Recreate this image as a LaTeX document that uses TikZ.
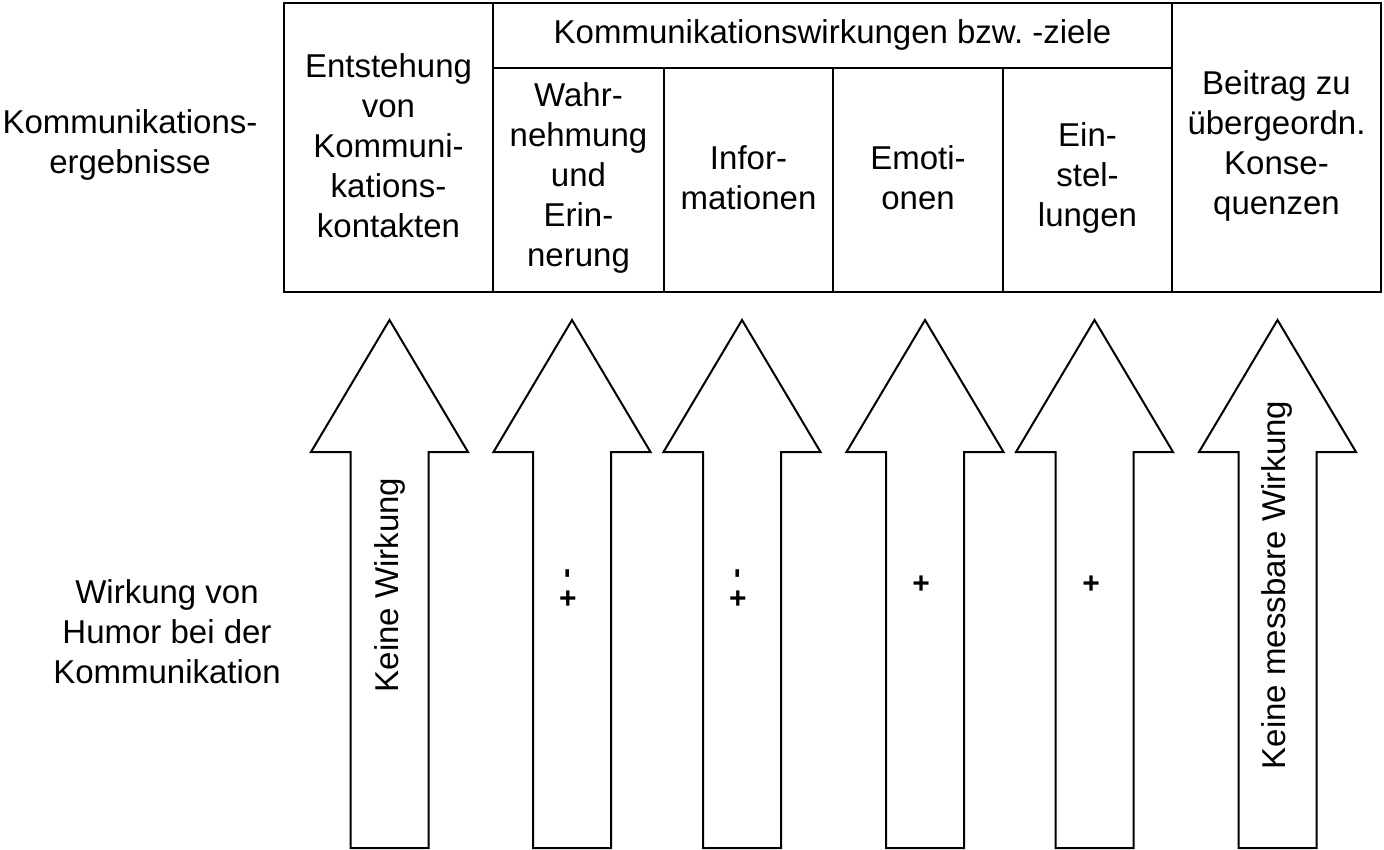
\documentclass[tikz,border=0pt]{standalone}
\usepackage{fontspec}
\setmainfont{Liberation Sans}
\frenchspacing
\begin{document}
\begin{tikzpicture}[x=1pt,y=-1pt,line width=2pt,
  txt/.style={font=\fontsize{33}{40}\selectfont, align=center, inner sep=0pt},
  sign/.style={font=\fontsize{30}{30}\selectfont\bfseries, inner sep=0pt},
  bigarrow/.pic={\draw (0,320) -- (78.5,452) -- (39,452) -- (39,848) -- (-39,848) -- (-39,452) -- (-78.5,452) -- cycle;}]
\useasboundingbox (0,0) rectangle (1384,850);
% table
\draw (284,3) rectangle (1381,292);
\draw (493,3) -- (493,292);
\draw (1172,3) -- (1172,292);
\draw (493,68) -- (1172,68);
\draw (664,68) -- (664,292);
\draw (833,68) -- (833,292);
\draw (1003,68) -- (1003,292);
% cell texts
\node[txt] (hdr) at (832.5,35) {Kommunikationswirkungen bzw.\ -ziele};
\node[txt] (c1) at (388.5,146) {Entstehung\\von\\Kommuni-\\kations-\\kontakten};
\node[txt] (c2) at (578.5,178) {Wahr-\\nehmung\\und\\Erin-\\nerung};
\node[txt] (c3) at (748.5,178) {Infor-\\mationen};
\node[txt] (c4) at (918,178) {Emoti-\\onen};
\node[txt] (c5) at (1087.5,178) {Ein-\\stel-\\lungen};
\node[txt] (c6) at (1276.5,146) {Beitrag zu\\übergeordn.\\Konse-\\quenzen};
% left labels
\node[txt] (l1) at (130,145) {Kommunikations-\\ergebnisse};
\node[txt] (l2) at (167,632) {Wirkung von\\Humor bei der\\Kommunikation};
% arrows
\pic at (389.5,0) {bigarrow};
\pic at (572,0) {bigarrow};
\pic at (742,0) {bigarrow};
\pic at (925,0) {bigarrow};
\pic at (1094.5,0) {bigarrow};
\pic at (1277.5,0) {bigarrow};
% arrow texts
\node[txt,rotate=90] (a1) at (390,585) {Keine Wirkung};
\node[txt,rotate=90] (a6) at (1277,585) {Keine messbare Wirkung};
\node[sign,rotate=90] (m2) at (571,574) {-};
\node[sign] (p2) at (568,600) {+};
\node[sign,rotate=90] (m3) at (741,574) {-};
\node[sign] (p3) at (738,600) {+};
\node[sign] (p4) at (921,585) {+};
\node[sign] (p5) at (1091,585) {+};
\end{tikzpicture}
\end{document}
